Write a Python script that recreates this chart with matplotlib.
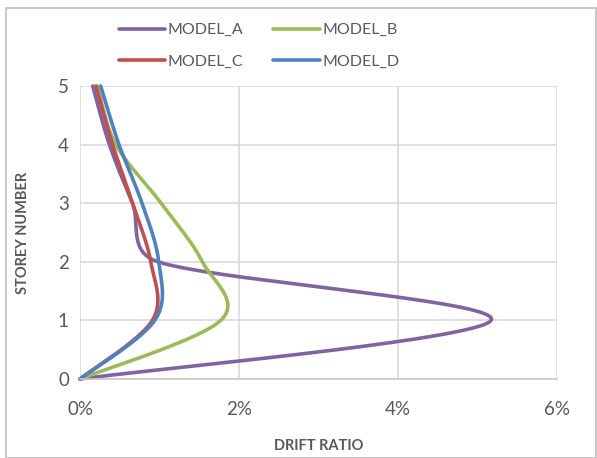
import numpy as np
import matplotlib
matplotlib.use("Agg")
import matplotlib.pyplot as plt
from matplotlib.patches import Rectangle
from matplotlib.ticker import FuncFormatter

storeys = [0, 1, 2, 3, 4, 5]
model_a = [0.0, 0.0517, 0.0098, 0.0066, 0.0037, 0.0016]
model_b = [0.0, 0.0177, 0.0154, 0.0102, 0.0045, 0.0022]
model_c = [0.0, 0.0091, 0.0089, 0.0066, 0.0041, 0.0020]
model_d = [0.0, 0.0094, 0.0099, 0.0078, 0.0049, 0.0026]
names = ["MODEL_A", "MODEL_B", "MODEL_C", "MODEL_D"]
colors = ["#8064A2", "#9BBB59", "#C0504D", "#4F81BD"]
xticks = [0, 0.02, 0.04, 0.06]
yticks = [0, 1, 2, 3, 4, 5]


def smooth(xs, ys, ax, n=60):
    # Excel-like smoothing: Bezier with limited control-point length, in display space
    pts = ax.transData.transform(np.column_stack([xs, ys]))
    P = np.vstack([pts[0], pts, pts[-1]])
    out = []
    t = np.linspace(0, 1, n)[:, None]
    for i in range(1, len(P) - 2):
        p0, p3 = P[i], P[i + 1]
        seglen = np.linalg.norm(p3 - p0)
        v1 = (P[i + 1] - P[i - 1]) / 6.0
        v2 = (P[i + 2] - P[i]) / 6.0
        for v in (v1, v2):
            L = np.linalg.norm(v)
            if L > seglen / 2 and L > 0:
                v *= (seglen / 2) / L
        p1 = p0 + v1
        p2 = p3 - v2
        seg = ((1 - t) ** 3) * p0 + 3 * ((1 - t) ** 2) * t * p1 + 3 * (1 - t) * t ** 2 * p2 + t ** 3 * p3
        out.append(seg if i == 1 else seg[1:])
    out = np.vstack(out)
    d = ax.transData.inverted().transform(out)
    return d[:, 0], d[:, 1]


plt.rcParams['font.family'] = ['Lato', 'DejaVu Sans']
fig = plt.figure(figsize=(5.97, 4.58), dpi=100)
ax = fig.add_axes([80 / 597, 1 - 379 / 458, 477 / 597, 293 / 458])
ax.set_xlim(0, 0.06)
ax.set_ylim(0, 5)
ax.set_xticks(xticks)
ax.set_yticks(yticks)
ax.xaxis.set_major_formatter(FuncFormatter(lambda v, p: f"{v*100:.0f}%"))
ax.grid(True, color="#d9d9d9", linewidth=1.2)
ax.set_axisbelow(True)
for s in ax.spines.values():
    s.set_visible(False)
ax.spines['bottom'].set_visible(True)
ax.spines['bottom'].set_color("#c8c8c8")
ax.spines['bottom'].set_linewidth(1.2)
ax.tick_params(length=0, labelsize=13.5, labelcolor="#595959", pad=8)
ax.tick_params(axis='x', pad=16)

fig.canvas.draw()
lines = []
for vals, name, c in zip([model_a, model_b, model_c, model_d], names, colors):
    sx, sy = smooth(vals, storeys, ax)
    ln, = ax.plot(sx, sy, color=c, linewidth=2.6, label=name, solid_capstyle='round', clip_on=False)
    lines.append(ln)

ax.set_xlabel("DRIFT RATIO", fontsize=10.5, fontweight='bold', color="#595959", labelpad=15)
ax.set_ylabel("STOREY NUMBER", fontsize=10.5, fontweight='bold', color="#595959", labelpad=20)

order = [0, 2, 1, 3]
fig.legend(handles=[lines[i] for i in order], labels=[names[i] for i in order], ncol=2, loc='center',
           bbox_to_anchor=(259 / 597, 1 - 46 / 458),
           frameon=False, fontsize=11.5, labelcolor="#595959", handlelength=2.9, handletextpad=0.15,
           columnspacing=1.9, labelspacing=1.1)

fig.patches.append(Rectangle((6 / 597, 0), 1 - 6 / 597 - 0.002, 1 - 8 / 458, transform=fig.transFigure,
                             fill=False, edgecolor="#bfbfbf", linewidth=1.2))
fig.savefig("out.png", dpi=100)
